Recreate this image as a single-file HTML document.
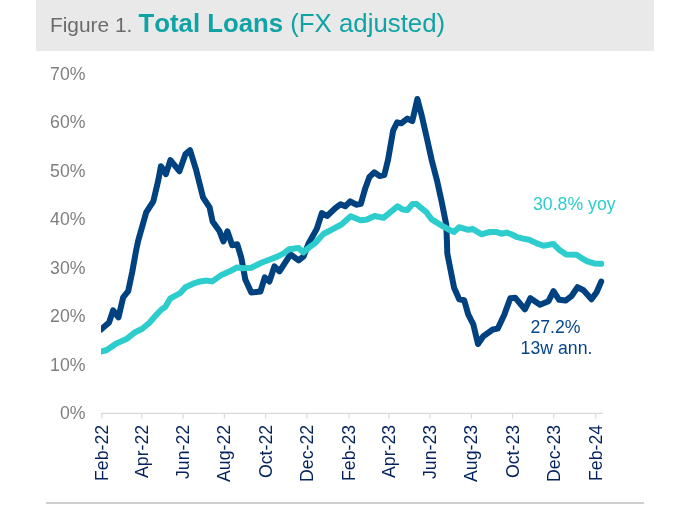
<!DOCTYPE html>
<html><head><meta charset="utf-8"><title>Figure 1. Total Loans (FX adjusted)</title>
<style>
html,body{margin:0;padding:0;background:#fff;}
body{width:677px;height:507px;overflow:hidden;position:relative;font-family:"Liberation Sans",sans-serif;}
#hdr{position:absolute;left:36px;top:0;width:618px;height:51px;background:#e9e9e9;}
#ttl{font-kerning:none;position:absolute;left:49.95px;top:8px;white-space:nowrap;line-height:30px;}
#ttl .a{font-size:20.9px;color:#6b6b6b;}
#ttl .b{margin-left:0.4px;font-size:25.75px;color:#10a3a5;font-weight:bold;}
#ttl .c{margin-left:0.0px;font-size:25.8px;color:#10a3a5;}
#btm{position:absolute;left:46px;top:502px;width:598px;height:2px;background:#cfcfcf;}
svg{position:absolute;left:0;top:0;}
svg text{font-kerning:none;font-family:"Liberation Sans",sans-serif;}
</style></head><body>
<div id="hdr"></div>
<div id="ttl"><span class="a">Figure 1. </span><span class="b">Total Loans</span><span class="c"> (FX adjusted)</span></div>
<div id="btm"></div>
<svg width="677" height="507" viewBox="0 0 677 507">
<g font-size="17.7" fill="#7f7f7f" text-anchor="end">
<text x="85.5" y="79.7">70%</text>
<text x="85.5" y="128.1">60%</text>
<text x="85.5" y="176.6">50%</text>
<text x="85.5" y="225.0">40%</text>
<text x="85.5" y="273.5">30%</text>
<text x="85.5" y="321.9">20%</text>
<text x="85.5" y="371.0">10%</text>
<text x="85.5" y="418.8">0%</text>
</g>
<g stroke="#d9d9d9" stroke-width="1.2" fill="none">
<line x1="101" y1="413.3" x2="603" y2="413.3"/>
<line x1="102.0" y1="413.3" x2="102.0" y2="418.5"/>
<line x1="141.9" y1="413.3" x2="141.9" y2="418.5"/>
<line x1="183.2" y1="413.3" x2="183.2" y2="418.5"/>
<line x1="224.4" y1="413.3" x2="224.4" y2="418.5"/>
<line x1="265.7" y1="413.3" x2="265.7" y2="418.5"/>
<line x1="306.9" y1="413.3" x2="306.9" y2="418.5"/>
<line x1="348.9" y1="413.3" x2="348.9" y2="418.5"/>
<line x1="388.8" y1="413.3" x2="388.8" y2="418.5"/>
<line x1="430.0" y1="413.3" x2="430.0" y2="418.5"/>
<line x1="471.3" y1="413.3" x2="471.3" y2="418.5"/>
<line x1="512.5" y1="413.3" x2="512.5" y2="418.5"/>
<line x1="553.8" y1="413.3" x2="553.8" y2="418.5"/>
<line x1="595.7" y1="413.3" x2="595.7" y2="418.5"/>
</g>
<g font-size="17.7" fill="#04225c" text-anchor="end">
<text transform="translate(108.0,424.9) rotate(-90)">Feb-22</text>
<text transform="translate(147.9,424.9) rotate(-90)">Apr-22</text>
<text transform="translate(189.2,424.9) rotate(-90)">Jun-22</text>
<text transform="translate(230.4,424.9) rotate(-90)">Aug-22</text>
<text transform="translate(271.7,424.9) rotate(-90)">Oct-22</text>
<text transform="translate(312.9,424.9) rotate(-90)">Dec-22</text>
<text transform="translate(354.9,424.9) rotate(-90)">Feb-23</text>
<text transform="translate(394.8,424.9) rotate(-90)">Apr-23</text>
<text transform="translate(436.0,424.9) rotate(-90)">Jun-23</text>
<text transform="translate(477.3,424.9) rotate(-90)">Aug-23</text>
<text transform="translate(518.5,424.9) rotate(-90)">Oct-23</text>
<text transform="translate(559.8,424.9) rotate(-90)">Dec-23</text>
<text transform="translate(601.7,424.9) rotate(-90)">Feb-24</text>
</g>
<defs><clipPath id="cp"><rect x="101" y="60" width="520" height="352"/></clipPath></defs><g clip-path="url(#cp)">
<polyline points="101.0,329.5 109.1,322.4 113.1,310.4 118.5,317.4 123.2,297.3 128.2,291.2 132.2,272.1 136.2,250.0 138.2,240.6 146.2,212.4 153.3,201.4 158.3,180.2 160.9,166.2 165.9,174.2 170.4,160.1 179.4,171.2 185.5,154.1 190.0,150.2 196.2,170.2 203.0,197.3 209.6,207.4 212.6,221.5 219.4,231.0 223.4,241.5 227.4,231.3 232.2,245.2 237.2,244.2 241.2,257.3 245.3,279.4 251.3,292.5 260.4,291.5 264.8,277.4 269.4,281.5 274.4,266.4 279.5,271.4 290.5,254.3 298.6,260.3 303.6,256.3 308.7,243.2 316.7,229.1 321.9,213.0 327.0,216.0 335.5,208.0 340.6,204.3 345.2,206.3 350.2,201.3 356.2,204.7 360.8,203.9 365.3,188.2 369.3,177.2 374.2,172.3 379.7,176.0 384.3,175.1 388.0,160.0 393.2,130.3 397.2,122.3 401.2,123.3 407.3,118.6 412.3,121.2 417.4,99.0 421.4,114.2 426.9,138.4 431.8,160.5 437.0,180.4 441.8,202.3 446.2,224.4 446.9,240.0 447.3,253.5 454.1,287.8 459.2,299.3 464.2,300.3 468.2,314.4 473.3,324.4 478.0,344.0 483.3,336.3 492.8,329.5 497.8,328.6 504.4,314.4 510.3,298.2 515.3,297.8 524.9,309.3 530.4,298.2 540.0,304.7 548.5,301.2 553.5,291.2 559.1,299.8 565.6,300.6 571.4,296.2 577.5,287.2 583.5,290.2 591.5,299.2 596.6,292.2 601.2,281.6" fill="none" stroke="#004280" stroke-width="6" stroke-linecap="round" stroke-linejoin="round"/>
<polyline points="101.0,351.6 106.8,350.0 116.3,343.5 127.0,338.7 135.2,332.2 142.3,328.7 149.4,322.8 157.7,313.3 161.5,309.5 165.2,307.0 170.1,298.7 175.0,295.8 180.1,293.2 185.4,287.3 193.1,283.7 200.2,281.4 206.7,280.6 212.3,281.4 221.5,274.9 229.8,271.3 237.0,267.5 243.0,268.3 251.3,267.7 260.8,263.0 277.3,256.6 283.3,253.6 289.2,249.2 298.6,248.0 303.2,252.4 308.9,247.6 314.7,243.4 323.7,233.8 330.8,230.2 341.4,224.5 350.7,216.3 360.4,220.2 366.3,219.8 374.5,216.0 383.4,217.8 391.4,211.4 397.5,206.3 402.5,209.4 407.5,210.0 412.6,203.9 416.6,203.9 421.6,208.4 426.6,212.4 431.7,219.4 440.5,224.9 448.0,229.2 454.1,231.9 459.1,227.2 468.2,229.8 472.4,228.8 477.0,231.6 481.8,234.3 486.0,233.0 490.1,231.9 496.0,231.9 501.4,233.7 506.7,232.6 511.4,234.3 517.3,237.2 523.0,238.6 529.2,239.7 536.3,243.1 543.4,245.8 548.5,244.9 553.4,244.0 559.9,250.3 566.2,254.5 576.5,254.7 582.0,258.3 587.3,261.4 594.2,263.4 601.2,263.8" fill="none" stroke="#2dcccd" stroke-width="6" stroke-linecap="round" stroke-linejoin="round"/>
</g>
<text x="533" y="209.6" font-size="17.7" fill="#2dcccd">30.8% yoy</text>
<text x="555.5" y="333.0" font-size="17.7" fill="#064489" text-anchor="middle">27.2%</text>
<text x="556.5" y="353.6" font-size="17.7" fill="#064489" text-anchor="middle">13w ann.</text>
</svg></body></html>
